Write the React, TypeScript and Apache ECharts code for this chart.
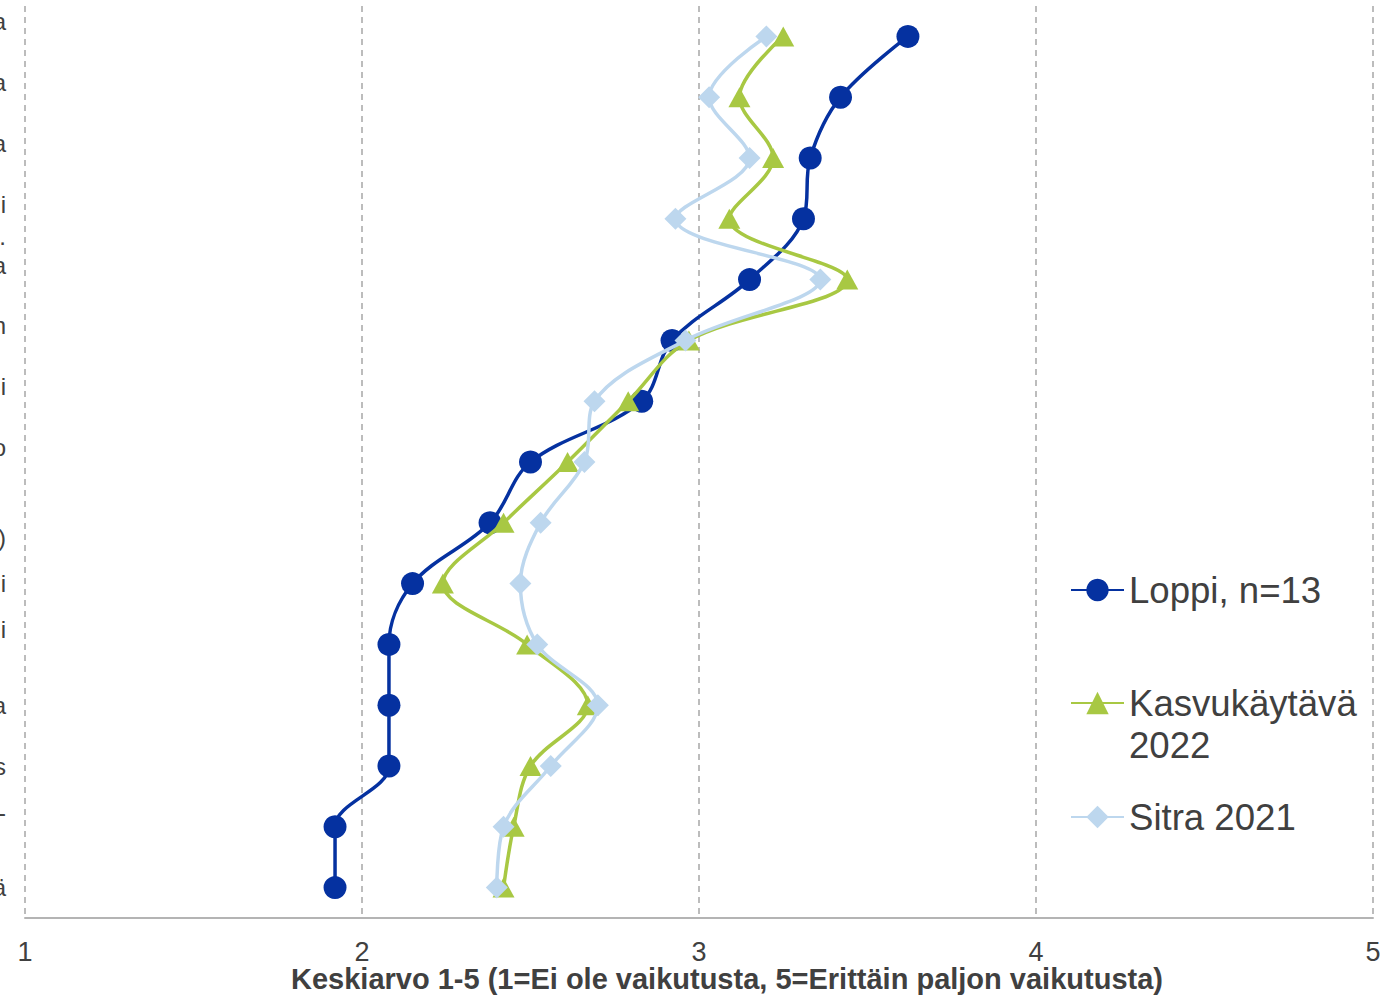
import React, { useEffect, useRef } from "react";
import * as echarts from "echarts";

// Category labels (only the visible right-edge fragments of the original labels)
const categories = [
  "a\n ",
  "a\n ",
  "a\n ",
  "i\n ",
  ".\na\n \n ",
  "n\n ",
  "i\n ",
  "o\n ",
  " \n)",
  "i",
  "i\n ",
  "a",
  "s",
  "-\n ",
  "ä",
];

const xTicks = [1, 2, 3, 4, 5];

const loppi = [3.62, 3.42, 3.33, 3.31, 3.15, 2.92, 2.83, 2.5, 2.38, 2.15, 2.08, 2.08, 2.08, 1.92, 1.92];
const kasvu = [3.25, 3.12, 3.22, 3.09, 3.44, 2.97, 2.79, 2.61, 2.42, 2.24, 2.49, 2.67, 2.5, 2.45, 2.42];
const sitra = [3.2, 3.03, 3.15, 2.93, 3.36, 2.96, 2.69, 2.66, 2.53, 2.47, 2.52, 2.7, 2.56, 2.42, 2.4];

const seriesNames = ["Loppi, n=13", "Kasvukäytävä 2022", "Sitra 2021"];

const FONT = "'Liberation Sans', Arial, sans-serif";
const TXT = "#404040";

export default function App() {
  const ref = useRef<HTMLDivElement>(null);

  useEffect(() => {
    if (!ref.current) return;
    const chart = echarts.init(ref.current, undefined, { renderer: "svg" });

    const legendBase = {
      orient: "vertical",
      left: 1065,
      itemWidth: 53,
      itemHeight: 28,
      selectedMode: false,
      textStyle: { fontFamily: FONT, fontSize: 36.6, color: TXT, lineHeight: 42 },
    };

    chart.setOption({
      animation: false,
      backgroundColor: "#ffffff",
      textStyle: { fontFamily: FONT },
      grid: {
        left: 25,
        right: 19,
        top: 6,
        bottom: 82,
        containLabel: false,
        outerBoundsMode: "none",
      },
      legend: [
        { ...legendBase, top: 564, data: [seriesNames[0]] },
        {
          ...legendBase,
          top: 635,
          data: [seriesNames[1]],
          formatter: () => " \nKasvukäytävä\n2022",
        },
        { ...legendBase, top: 791, data: [seriesNames[2]] },
      ],
      xAxis: {
        type: "value",
        min: xTicks[0],
        max: xTicks[xTicks.length - 1],
        interval: 1,
        axisLine: { show: true, lineStyle: { color: "#B4B4B4", width: 2 } },
        axisTick: { show: false },
        axisLabel: { fontFamily: FONT, fontSize: 27, lineHeight: 20, color: TXT, margin: 24 },
        splitLine: {
          show: true,
          lineStyle: { color: "#A6A6A6", width: 1.5, type: [6, 5] },
        },
        name: "Keskiarvo 1-5 (1=Ei ole vaikutusta, 5=Erittäin paljon vaikutusta)",
        nameLocation: "middle",
        nameGap: 50,
        nameMoveOverlap: false,
        nameTextStyle: {
          fontFamily: FONT,
          fontSize: 29,
          lineHeight: 22,
          fontWeight: "bold",
          color: TXT,
          padding: [0, 0, 0, 56],
        },
      },
      yAxis: {
        type: "category",
        data: categories,
        inverse: true,
        boundaryGap: true,
        axisLine: { show: false },
        axisTick: { show: false },
        splitLine: { show: false },
        axisLabel: {
          fontFamily: FONT,
          fontSize: 24,
          lineHeight: 29,
          color: TXT,
          margin: 19,
          interval: 0,
        },
      },
      series: [
        {
          name: seriesNames[0],
          type: "line",
          data: loppi,
          smooth: 0.35,
          symbol: "circle",
          symbolSize: 23,
          lineStyle: { color: "#0531A0", width: 3.5 },
          itemStyle: { color: "#0531A0" },
          z: 2,
        },
        {
          name: seriesNames[1],
          type: "line",
          data: kasvu,
          smooth: 0.35,
          symbol: "triangle",
          symbolSize: [22, 20],
          lineStyle: { color: "#A8C843", width: 3.5 },
          itemStyle: { color: "#A8C843" },
          z: 3,
        },
        {
          name: seriesNames[2],
          type: "line",
          data: sitra,
          smooth: 0.35,
          symbol: "diamond",
          symbolSize: [22, 22],
          lineStyle: { color: "#BDD7EE", width: 3.5 },
          itemStyle: { color: "#BDD7EE" },
          z: 4,
        },
      ],
    });

    return () => chart.dispose();
  }, []);

  return (
    <div
      ref={ref}
      style={{ position: "fixed", left: 0, top: 0, width: 1392, height: 1000, background: "#fff" }}
    />
  );
}
